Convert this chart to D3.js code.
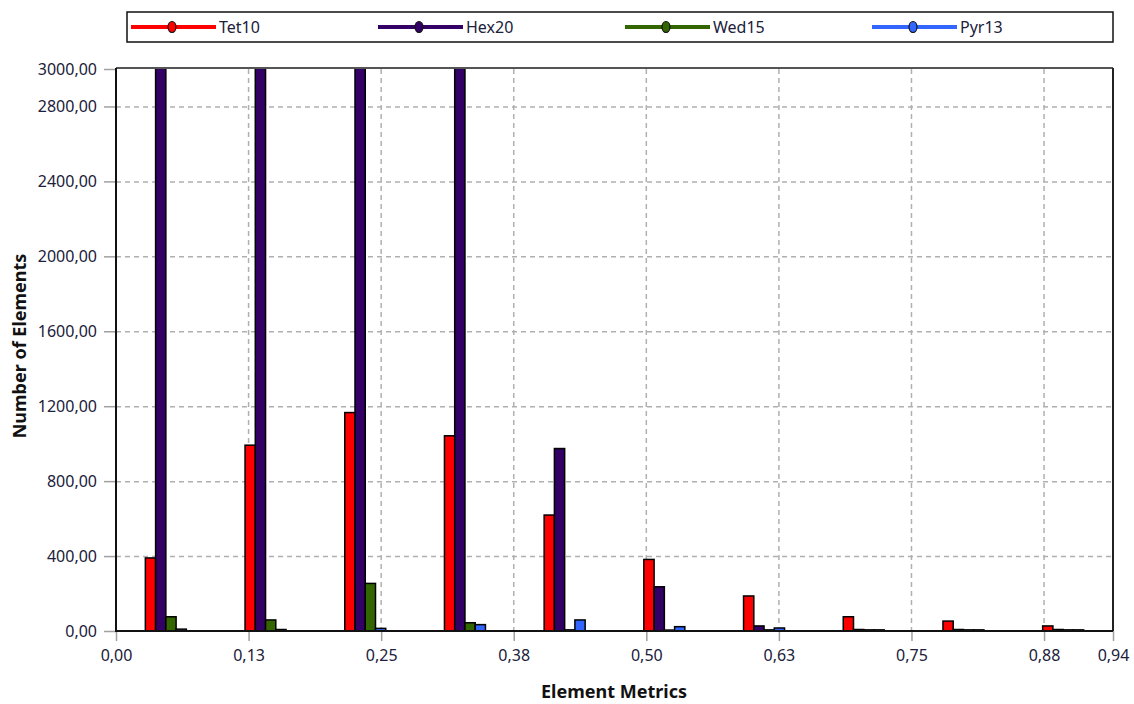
<!DOCTYPE html>
<html>
<head>
<meta charset="utf-8">
<script src="https://cdn.jsdelivr.net/npm/d3@7"></script>
<style>
  html, body { margin: 0; padding: 0; background: #ffffff; }
  svg { display: block; font-family: "Noto Sans", "Open Sans", sans-serif; }
</style>
</head>
<body>
<svg id="chart" width="1134" height="704"></svg>
<script>
// ---- data ----
const seriesNames = ["Tet10", "Hex20", "Wed15", "Pyr13"];
const seriesColors = ["#ff0000", "#330066", "#336600", "#3366ff"];
const binCenters = [0.047, 0.141, 0.235, 0.329, 0.423, 0.517, 0.611, 0.705, 0.799, 0.893];
const tet10 = [390, 992, 1166, 1042, 619, 382, 187, 76, 53, 27];
const hex20 = [5400, 6800, 6100, 4300, 974, 236, 27, 8, 8, 8];
const wed15 = [76, 59, 254, 44, 6, 5, 6, 6, 6, 6];
const pyr13 = [10, 8, 14, 34, 59, 23, 16, 6, 6, 6];
const yTickValues = [0, 400, 800, 1200, 1600, 2000, 2400, 2800, 3000];
const yTickLabels = ["0,00", "400,00", "800,00", "1200,00", "1600,00", "2000,00", "2400,00", "2800,00", "3000,00"];
const xTickValues = [0, 0.125, 0.25, 0.375, 0.5, 0.625, 0.75, 0.875, 0.94];
const xTickLabels = ["0,00", "0,13", "0,25", "0,38", "0,50", "0,63", "0,75", "0,88", "0,94"];

const seriesValues = [tet10, hex20, wed15, pyr13];

// ---- layout ----
const svg = d3.select("#chart");
const pLeft = 116, pRight = 1113, pTop = 69, pBottom = 631;
const x = d3.scaleLinear().domain([0, 0.94]).range([pLeft, pRight]);
const y = d3.scaleLinear().domain([0, 3000]).range([pBottom, pTop]);
const groupWidth = 41;
const xInner = d3.scaleBand().domain(seriesNames).range([-groupWidth / 2, groupWidth / 2]);

const textColor = "#20203a";

// clip
svg.append("defs").append("clipPath").attr("id", "plotclip")
  .append("rect").attr("x", pLeft).attr("y", pTop).attr("width", pRight - pLeft).attr("height", pBottom - pTop + 2);

// gridlines
const grid = svg.append("g");
grid.selectAll("line.hg").data(yTickValues.filter(v => v > 0 && v < 3000)).enter().append("line")
  .attr("x1", pLeft).attr("x2", pRight)
  .attr("y1", d => y(d) + 0.5).attr("y2", d => y(d) + 0.5)
  .attr("stroke", "#b0b0b0").attr("stroke-width", 1.5).attr("stroke-dasharray", "5,4");
grid.selectAll("line.vg").data(xTickValues.filter(v => v > 0 && v < 0.94)).enter().append("line")
  .attr("x1", d => x(d)).attr("x2", d => x(d))
  .attr("y1", pTop).attr("y2", pBottom)
  .attr("stroke", "#b0b0b0").attr("stroke-width", 1.5).attr("stroke-dasharray", "5,4");

// y axis
const yAxis = d3.axisLeft(y).tickValues(yTickValues).tickSize(12).tickPadding(7)
  .tickFormat((d, i) => yTickLabels[i]);
const gy = svg.append("g").attr("transform", `translate(${pLeft},0)`).call(yAxis);
gy.select(".domain").remove();
gy.selectAll(".tick line").attr("stroke", "#a0a0a0").attr("stroke-width", 1.5);
gy.selectAll(".tick text").attr("fill", textColor).style("font-size", "16px")
  .style("font-family", "'Noto Sans', sans-serif");

// x axis
const xAxis = d3.axisBottom(x).tickValues(xTickValues).tickSize(10).tickPadding(9)
  .tickFormat((d, i) => xTickLabels[i]);
const gx = svg.append("g").attr("transform", `translate(0,${pBottom})`).call(xAxis);
gx.select(".domain").remove();
gx.selectAll(".tick line").attr("stroke", "#a0a0a0").attr("stroke-width", 1.5);
gx.selectAll(".tick text").attr("fill", textColor).style("font-size", "16px")
  .style("font-family", "'Noto Sans', sans-serif");

// bars
const bars = svg.append("g").attr("clip-path", "url(#plotclip)");
seriesNames.forEach((name, si) => {
  bars.selectAll(null).data(seriesValues[si]).enter().append("rect")
    .attr("x", (d, i) => x(binCenters[i]) + xInner(name))
    .attr("width", xInner.bandwidth())
    .attr("y", d => y(d))
    .attr("height", d => y(0) - y(d))
    .attr("fill", seriesColors[si])
    .attr("stroke", "#000")
    .attr("stroke-width", 1.5);
});

// frame
svg.append("line").attr("x1", pLeft).attr("x2", pRight).attr("y1", pTop - 1).attr("y2", pTop - 1)
  .attr("stroke", "#555").attr("stroke-width", 2);
svg.append("line").attr("x1", pRight).attr("x2", pRight).attr("y1", pTop - 1).attr("y2", pBottom)
  .attr("stroke", "#222").attr("stroke-width", 2);
svg.append("line").attr("x1", pLeft).attr("x2", pLeft).attr("y1", pTop - 1).attr("y2", pBottom + 1)
  .attr("stroke", "#111").attr("stroke-width", 2);
svg.append("line").attr("x1", pLeft).attr("x2", pRight).attr("y1", pBottom).attr("y2", pBottom)
  .attr("stroke", "#111").attr("stroke-width", 2);

// axis titles
svg.append("text").attr("x", 614).attr("y", 698).attr("text-anchor", "middle")
  .attr("fill", "#111").style("font-size", "18px").style("font-weight", "bold")
  .text("Element Metrics");
svg.append("text").attr("transform", "translate(26,346) rotate(-90)").attr("text-anchor", "middle")
  .attr("fill", "#111").style("font-size", "18px").style("font-weight", "bold")
  .text("Number of Elements");

// legend
const legend = svg.append("g");
legend.append("rect").attr("x", 127).attr("y", 12).attr("width", 986).attr("height", 30)
  .attr("fill", "#fff").attr("stroke", "#111").attr("stroke-width", 1.5);
const legendX = d3.scalePoint().domain(seriesNames).range([131, 872]);
seriesNames.forEach((name, si) => {
  const lx = legendX(name);
  const g = legend.append("g").attr("transform", `translate(${lx},27)`);
  g.append("line").attr("x1", 0).attr("x2", 85).attr("y1", 0).attr("y2", 0)
    .attr("stroke", seriesColors[si]).attr("stroke-width", 4);
  g.append("ellipse").attr("cx", 41).attr("cy", 0).attr("rx", 4).attr("ry", 5.5)
    .attr("fill", seriesColors[si]).attr("stroke", "#111").attr("stroke-width", 1.2);
  g.append("text").attr("x", 88).attr("y", 6).attr("fill", textColor)
    .style("font-size", "16px").text(name);
});
</script>
</body>
</html>
